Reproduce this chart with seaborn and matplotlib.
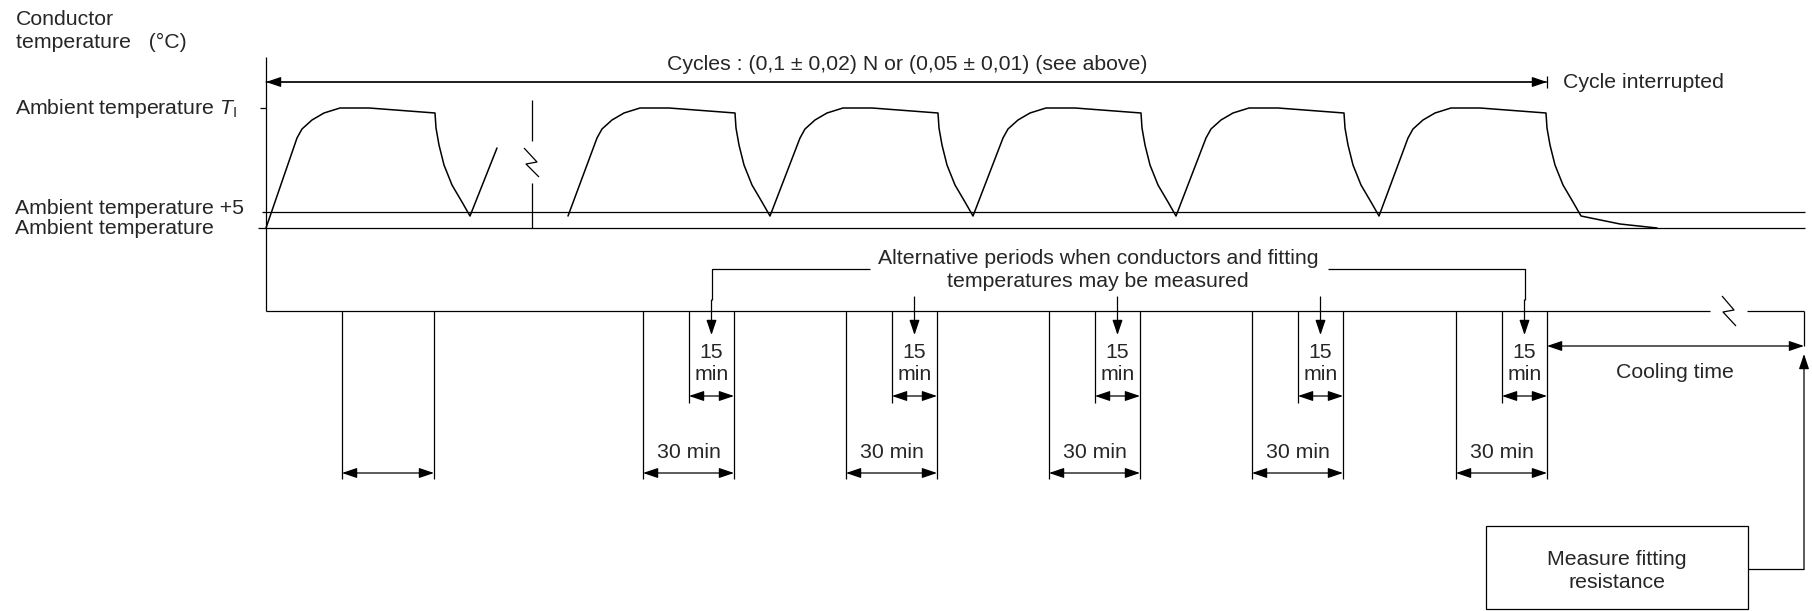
import matplotlib.pyplot as plt
import pandas as pd
import seaborn as sns
from matplotlib.patches import Rectangle

# drawing units = pixels of the 1812x611 figure, y grows downwards
# one heating/cooling cycle: offsets from cycle start and conductor level
cycle_dt = [0, 29, 34, 44, 56, 72, 101, 167, 168, 171, 176, 184, 194, 202]
cycle_temp = [216, 138, 129, 120, 113, 108, 108, 113, 128, 145, 165, 185, 202, 216]

first_cycle_start = 268
cycle_starts = [568, 771, 974, 1177, 1379]
cooldown_time = [1620, 1657]
cooldown_temp = [224, 228]

level_ti = 108
level_plus5 = 212
level_ambient = 228

period_ends = [734, 937, 1140, 1343, 1547]
first_period = [342, 434]
len_30 = 91
len_15 = 45

label_ti = r'Ambient temperature $\mathit{T}_{\mathregular{I}}$'
label_plus5 = 'Ambient temperature +5'
label_amb = 'Ambient temperature'
title_cycles = 'Cycles : (0,1 ± 0,02) N or (0,05 ± 0,01) (see above)'
note_alt = 'Alternative periods when conductors and fitting\ntemperatures may be measured'

# build curve table
rows = [(0, 266, level_ambient)]
for d, t in zip(cycle_dt[1:], cycle_temp[1:]):
    rows.append((0, first_cycle_start + d, t))
rows.append((0, 497, 148))
for i, s in enumerate(cycle_starts):
    pts = list(zip(cycle_dt, cycle_temp))
    if i > 0:
        pts = pts[1:]
    for d, t in pts:
        rows.append((1, s + d, t))
for x, t in zip(cooldown_time, cooldown_temp):
    rows.append((1, x, t))
df = pd.DataFrame(rows, columns=['segment', 'time', 'temp'])

sns.set_style('white')
plt.rcParams['font.family'] = ['Liberation Sans', 'DejaVu Sans']
plt.rcParams['mathtext.fontset'] = 'custom'
plt.rcParams['mathtext.rm'] = 'Liberation Sans'
plt.rcParams['mathtext.it'] = 'Liberation Sans:italic'
fs = 15.3
lw = 0.9

fig = plt.figure(figsize=(18.12, 6.11), dpi=100)
ax = fig.add_axes([0, 0, 1, 1])

sns.lineplot(data=df, x='time', y='temp', units='segment', estimator=None,
             sort=False, color='black', lw=1.1, ax=ax)


def line(xs, ys, lw=lw):
    ax.plot(xs, ys, color='black', lw=lw, solid_capstyle='butt')


def arrow(x1, y1, x2, y2, style='<|-|>'):
    ax.annotate('', xy=(x2, y2), xytext=(x1, y1),
                arrowprops=dict(arrowstyle=style + ',head_length=0.65,head_width=0.22',
                                color='black', lw=lw, shrinkA=0, shrinkB=0,
                                mutation_scale=14))


# axis and reference levels
line([266, 266], [57, 311])
line([260, 266], [level_ti, level_ti])
line([262, 1805], [level_plus5, level_plus5])
line([258, 1805], [level_ambient, level_ambient])

# break in the curve
line([532, 532], [100, 141])
line([524, 537, 526, 539], [148, 162, 164, 177])
line([532, 532], [183, level_ambient])

# top cycle arrow
arrow(1547, 82, 266, 82, style='-|>')
arrow(266, 82, 1547, 82, style='-|>')
line([1547, 1547], [76, 88])

# lower timeline
line([266, 1710], [311, 311])
line([1747, 1804], [311, 311])
line([1722, 1734, 1723, 1736], [296, 310, 312, 326])
line([1804, 1804], [311, 346])

line([first_period[0]] * 2, [311, 479])
line([first_period[1]] * 2, [311, 479])
arrow(first_period[0], 473, first_period[1], 473)

for e in period_ends:
    s30 = e - len_30
    s15 = e - len_15
    line([s30, s30], [311, 479])
    line([e, e], [311, 479])
    line([s15, s15], [311, 403])
    arrow(s30, 473, e, 473)
    arrow(s15, 396, e, 396)
    ax.text((s30 + e) / 2, 452, '30 min', ha='center', va='center', fontsize=fs)
    ax.text((s15 + e) / 2, 364, '15\nmin', ha='center', va='center',
            fontsize=fs, linespacing=1.2)

mids = [e - len_15 / 2 for e in period_ends]
line([mids[0], mids[0], 870], [300, 269, 269])
line([1328, mids[-1], mids[-1]], [269, 269, 300])
arrow(mids[0], 300, mids[0], 335, style='-|>')
arrow(mids[-1], 300, mids[-1], 335, style='-|>')
for m in mids[1:-1]:
    arrow(m, 297, m, 335, style='-|>')

# cooling time and measurement box
arrow(period_ends[-1], 346, 1804, 346)
ax.text(1675, 373, 'Cooling time', ha='center', va='center', fontsize=fs)
line([1748, 1804], [569, 569])
arrow(1804, 569, 1804, 354, style='-|>')
ax.add_patch(Rectangle((1486, 526), 262, 83, fill=False, ec='black', lw=lw))
ax.text(1617, 571, 'Measure fitting\nresistance', ha='center', va='center',
        fontsize=fs, linespacing=1.3)

# labels
ax.text(16, 31, 'Conductor\ntemperature   (°C)', ha='left', va='center',
        fontsize=fs, linespacing=1.3)
ax.text(15, level_ti, label_ti, ha='left', va='center', fontsize=fs)
ax.text(15, level_plus5 - 3, label_plus5, ha='left', va='center', fontsize=fs)
ax.text(15, level_ambient + 1, label_amb, ha='left', va='center', fontsize=fs)
ax.text(907, 65, title_cycles, ha='center', va='center', fontsize=fs)
ax.text(1563, 82, 'Cycle interrupted', ha='left', va='center', fontsize=fs)
ax.text(1098, 270, note_alt, ha='center', va='center', fontsize=fs,
        linespacing=1.3)

ax.set_xlim(0, 1812)
ax.set_ylim(611, 0)
ax.axis('off')

fig.savefig('out.png', dpi=100)
